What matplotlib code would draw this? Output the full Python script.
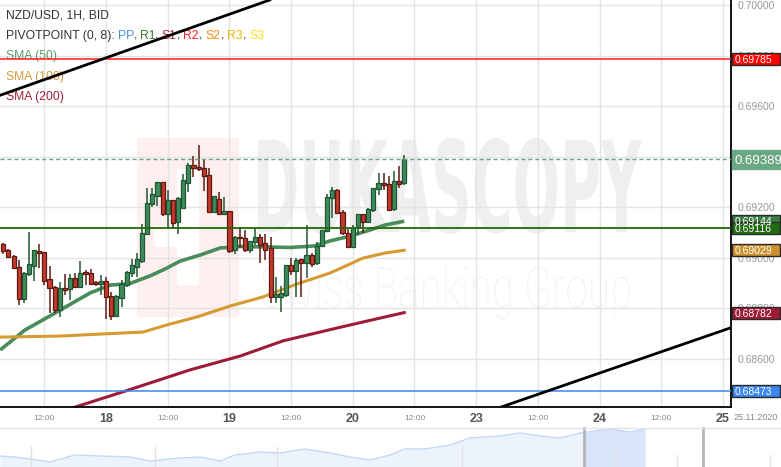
import numpy as np
import matplotlib
matplotlib.use("Agg")
import matplotlib.pyplot as plt
from matplotlib.patches import Rectangle, PathPatch
from matplotlib.textpath import TextPath
from matplotlib.font_manager import FontProperties
from matplotlib.transforms import Affine2D, IdentityTransform, blended_transform_factory

plt.rcParams['font.family'] = ['Liberation Sans', 'DejaVu Sans']

# ---------------- data ----------------
start_hour = 4  # hours after 17 Nov 00:00 for the first visible candle

opens = [0.69053, 0.69030, 0.69006, 0.68961, 0.68835, 0.68934, 0.68967, 0.69026, 0.69021, 0.68914,
         0.68882, 0.68792, 0.68878, 0.68874, 0.68918, 0.68882, 0.68942, 0.68940, 0.68903, 0.68894,
         0.68907, 0.68848, 0.68770, 0.68839, 0.68891, 0.68940, 0.68964, 0.68988, 0.69092, 0.69211,
         0.69245, 0.69298, 0.69171, 0.69228, 0.69140, 0.69195, 0.69296, 0.69367, 0.69357, 0.69353,
         0.69326, 0.69179, 0.69232, 0.69171, 0.69184, 0.69030, 0.69083, 0.69076, 0.69030, 0.69060,
         0.69080, 0.69056, 0.69037, 0.68845, 0.68845, 0.68852, 0.68970, 0.68948, 0.68993, 0.68980,
         0.69010, 0.68977, 0.69046, 0.69106, 0.69235, 0.69268, 0.69182, 0.69096, 0.69041, 0.69120,
         0.69171, 0.69142, 0.69188, 0.69270, 0.69296, 0.69291, 0.69191, 0.69303, 0.69294]
closes = [0.69026, 0.69003, 0.68957, 0.68835, 0.68938, 0.68975, 0.69030, 0.69019, 0.68908, 0.68878,
          0.68792, 0.68878, 0.68871, 0.68918, 0.68882, 0.68940, 0.68934, 0.68894, 0.68894, 0.68907,
          0.68843, 0.68770, 0.68848, 0.68894, 0.68944, 0.68970, 0.68994, 0.69096, 0.69215, 0.69250,
          0.69298, 0.69171, 0.69228, 0.69136, 0.69237, 0.69307, 0.69367, 0.69353, 0.69350, 0.69323,
          0.69179, 0.69244, 0.69171, 0.69184, 0.69026, 0.69083, 0.69076, 0.69030, 0.69066, 0.69083,
          0.69050, 0.69030, 0.68843, 0.68856, 0.68861, 0.68970, 0.68948, 0.68990, 0.68980, 0.69010,
          0.68975, 0.69046, 0.69109, 0.69241, 0.69268, 0.69175, 0.69096, 0.69041, 0.69116, 0.69172,
          0.69142, 0.69191, 0.69274, 0.69296, 0.69287, 0.69188, 0.69303, 0.69290, 0.69389]
highs = [0.69056, 0.69034, 0.69010, 0.68990, 0.68944, 0.69100, 0.69030, 0.69054, 0.69021, 0.68967,
         0.68887, 0.68904, 0.68935, 0.68935, 0.68938, 0.68986, 0.68951, 0.68953, 0.68907, 0.68931,
         0.68924, 0.68865, 0.68852, 0.68911, 0.68947, 0.68994, 0.69017, 0.69133, 0.69274, 0.69274,
         0.69298, 0.69298, 0.69268, 0.69228, 0.69241, 0.69330, 0.69373, 0.69402, 0.69446, 0.69390,
         0.69353, 0.69244, 0.69261, 0.69241, 0.69184, 0.69087, 0.69122, 0.69109, 0.69066, 0.69116,
         0.69093, 0.69093, 0.69080, 0.68924, 0.68887, 0.68970, 0.68997, 0.68997, 0.68993, 0.69129,
         0.69017, 0.69063, 0.69109, 0.69250, 0.69279, 0.69270, 0.69188, 0.69112, 0.69129, 0.69172,
         0.69171, 0.69195, 0.69274, 0.69334, 0.69336, 0.69323, 0.69344, 0.69363, 0.69406]
lows = [0.69013, 0.68998, 0.68955, 0.68812, 0.68821, 0.68928, 0.68908, 0.68957, 0.68891, 0.68782,
        0.68782, 0.68763, 0.68852, 0.68832, 0.68878, 0.68882, 0.68891, 0.68894, 0.68887, 0.68852,
        0.68756, 0.68753, 0.68766, 0.68805, 0.68885, 0.68924, 0.68922, 0.68980, 0.69092, 0.69201,
        0.69205, 0.69165, 0.69112, 0.69118, 0.69094, 0.69192, 0.69261, 0.69320, 0.69344, 0.69265,
        0.69179, 0.69179, 0.69171, 0.69171, 0.69017, 0.69013, 0.69037, 0.69023, 0.69017, 0.69050,
        0.68977, 0.68990, 0.68821, 0.68821, 0.68786, 0.68845, 0.68931, 0.68845, 0.68845, 0.68920,
        0.68961, 0.68970, 0.69041, 0.69102, 0.69155, 0.69172, 0.69089, 0.69041, 0.69037, 0.69089,
        0.69096, 0.69136, 0.69182, 0.69248, 0.69268, 0.69186, 0.69186, 0.69274, 0.69287]

sma50_h = [3.4, 8.2, 13.1, 20.9, 24.8, 28.6, 32.5, 35.5, 38.4, 42.3, 46.2, 50.1, 59.8, 64.6, 67.6, 71.5, 75.3, 78.3, 82.0]
sma50 = [0.68634, 0.68713, 0.68769, 0.68860, 0.68891, 0.68897, 0.68927, 0.68955, 0.68986, 0.69010,
         0.69038, 0.69044, 0.69040, 0.69046, 0.69066, 0.69085, 0.69109, 0.69129, 0.69144]
sma100_h = [3.4, 15.0, 22.8, 31.2, 35.8, 41.7, 48.1, 54.5, 61.1, 67.6, 74.0, 78.3, 82.0]
sma100 = [0.68685, 0.68689, 0.68697, 0.68705, 0.68733, 0.68765, 0.68808, 0.68844, 0.68895, 0.68939,
          0.68998, 0.69018, 0.69029]
sma200_h = [16.0, 18.0, 27.7, 40.3, 50.1, 58.4, 68.1, 74.0, 82.0]
sma200 = [0.68390, 0.68408, 0.68471, 0.68555, 0.68610, 0.68670, 0.68717, 0.68745, 0.68782]

pivot_r = 0.69785      # red level
pivot_g = 0.69116      # green level
pivot_b = 0.68473      # blue level
last_price = 0.69389

trend_upper = [(3.0, 0.69640), (60.0, 0.70050)]
trend_lower = [(100.85, 0.68408), (145.4, 0.68721)]

day_pos = [24, 48, 72, 96, 120, 144]
day_labels = ["18", "19", "20", "23", "24", "25"]
noon_pos = [12, 36, 60, 84, 108, 132]
noon_labels = ["12:00"] * 6
y_ticks = [0.686, 0.688, 0.690, 0.692, 0.694, 0.696, 0.698, 0.700]

nav_pos = [0, 15, 30, 50, 75, 100, 130, 150, 180, 200, 220, 235, 260, 280, 305, 330, 350, 370,
           390, 405, 425, 450, 470, 500, 520, 540, 560, 580, 610, 630, 645]
nav_level = [11, 10, 8, 5, 12, 11, 10, 6, 9, 10, 6, 12, 15, 14, 18, 14, 10, 7,
             12, 18, 18, 22, 29, 31, 34, 31, 29, 34, 38, 35, 38]

# ---------------- figure ----------------
W, H = 781, 467
fig = plt.figure(figsize=(W / 100, H / 100), dpi=100, facecolor='white')
ax_right_px, ax_bottom_px = 731, 407
ax = fig.add_axes([0, (H - ax_bottom_px) / H, ax_right_px / W, ax_bottom_px / H])
ymin, ymax = 0.684082, 0.700200
xmin = 3.36
xmax = xmin + ax_right_px / 5.14
ax.set_xlim(xmin, xmax)
ax.set_ylim(ymin, ymax)
ax.set_autoscale_on(False)

for s in ['top', 'left']:
    ax.spines[s].set_visible(False)
for s in ['right', 'bottom']:
    ax.spines[s].set_color('black')
    ax.spines[s].set_linewidth(1.3)

ax.set_axisbelow(True)
ax.grid(which='both', color='#e4e4e4', lw=1, zorder=0.5)

# ticks
ax.yaxis.tick_right()
ax.set_yticks(y_ticks, labels=[f"{v:.5f}" for v in y_ticks])
ax.tick_params(axis='y', length=0, pad=5, labelsize=7.5, labelcolor='#999999')
ax.set_xticks(day_pos, labels=day_labels)
ax.set_xticks(noon_pos, labels=noon_labels, minor=True)
ax.tick_params(axis='x', which='major', length=0, pad=4, labelsize=9, labelcolor='#555555')
ax.tick_params(axis='x', which='minor', length=0, pad=5.5, labelsize=6, labelcolor='#888888')
for lbl in ax.get_xticklabels():
    lbl.set_fontweight('bold')
fig.text(734 / W, (H - 417) / H, "25.11.2020", fontsize=6.5, color='#888888', va='center', ha='left')


# ---------------- watermark ----------------
def fit_path(text, box, color, weight, family, z=0.2):
    tp = TextPath((0, 0), text, size=100, prop=FontProperties(family=family, weight=weight))
    ext = tp.get_extents()
    x0, y0, x1, y1 = box
    fx0, fx1 = x0 / W, x1 / W
    fy0, fy1 = (H - y1) / H, (H - y0) / H
    tr = Affine2D().translate(-ext.x0, -ext.y0).scale((fx1 - fx0) / ext.width,
                                                        (fy1 - fy0) / ext.height).translate(fx0, fy0) + fig.transFigure
    ax.add_patch(PathPatch(tp, transform=tr, facecolor=color, edgecolor='none', zorder=z))


def fig_rect(x0, y0, x1, y1, color, z=0.1):
    ax.add_patch(Rectangle((x0 / W, (H - y1) / H), (x1 - x0) / W, (y1 - y0) / H,
                           transform=fig.transFigure, facecolor=color, edgecolor='none', zorder=z))


fit_path("DUKASCOPY", (258, 138, 642, 234), '#efefef', 'bold', 'DejaVu Sans')
fit_path("Swiss Banking Group", (262, 265, 630, 319), '#f3f3f3', 'light', 'Roboto')
fig_rect(137, 138, 239, 317, '#fdf0ee')
fig_rect(177, 169, 199, 285, 'white', 0.15)
fig_rect(154, 226, 177, 247, 'white', 0.15)

# ---------------- indicators ----------------
ax.plot(sma50_h, sma50, color='#4a8c5c', lw=2.6, zorder=2, solid_capstyle='butt')
ax.plot(sma100_h, sma100, color='#d69a32', lw=2.2, zorder=2)
ax.plot(sma200_h, sma200, color='#9c1c3a', lw=2.2, zorder=2)

# ---------------- candles ----------------
n = len(opens)
xs = start_hour + np.arange(n)
o = np.array(opens); c = np.array(closes); hi = np.array(highs); lo = np.array(lows)
up = c >= o
wick_cols = np.where(up, '#1f5733', '#5e1a12')
ax.vlines(xs, lo, hi, colors=wick_cols, lw=1.1, zorder=3)
ax.bar(xs[up], (c - o)[up], bottom=o[up], width=0.8, color='#3f8b5e', edgecolor='#1f5733', lw=0.9, zorder=4)
ax.bar(xs[~up], (c - o)[~up], bottom=o[~up], width=0.8, color='#c23b2c', edgecolor='#5e1a12', lw=0.9, zorder=4)

# ---------------- levels / lines ----------------
ax.axhline(pivot_r, color='#ff1a1a', lw=1.1, zorder=5)
ax.axhline(pivot_g, color='#1e6a06', lw=1.3, zorder=5)
ax.axhline(pivot_b, color='#3a87f0', lw=1.1, zorder=5)
ax.axhline(last_price, color='#6aa883', lw=1, ls=(0, (3, 2)), zorder=5)
ax.axline(trend_upper[0], trend_upper[1], color='black', lw=2, zorder=6)
ax.axline(trend_lower[0], trend_lower[1], color='black', lw=2, zorder=6)

# ---------------- legend texts ----------------
renderer = fig.canvas.get_renderer()
fp = dict(fontsize=8.7, family=['Liberation Sans', 'DejaVu Sans'])


def seg_text(x, y_img, segs):
    prefix = ""
    base = ax.text(0, 0, "I", transform=IdentityTransform(), **fp)
    wI = base.get_window_extent(renderer).width
    base.remove()
    for s, col in segs:
        if prefix:
            t = ax.text(0, 0, prefix + "I", transform=IdentityTransform(), **fp)
            off = t.get_window_extent(renderer).width - wI
            t.remove()
        else:
            off = 0
        ax.text(x + off, H - y_img, s, transform=IdentityTransform(), color=col, va='center', ha='left', zorder=2, **fp)
        prefix += s


dark = '#333333'
seg_text(6, 16, [("NZD/USD, 1H, BID", dark)])
seg_text(6, 36, [("PIVOTPOINT (0, 8): ", dark), ("PP", '#4a90e2'), (", ", dark), ("R1", '#3d7a2a'), (", ", dark),
                 ("S1", '#a8213b'), (", ", dark), ("R2", '#ff2222'), (", ", dark), ("S2", '#ff8c1a'), (", ", dark),
                 ("R3", '#f2b705'), (", ", dark), ("S3", '#f2e21a')])
seg_text(6, 56, [("SMA (50)", '#5a9a6a')])
seg_text(6, 77, [("SMA (100)", '#d39a3a')])
seg_text(6, 97, [("SMA (200)", '#a3203a')])

# ---------------- right value boxes ----------------
bt = blended_transform_factory(fig.transFigure, ax.transData)
ppu = ax_bottom_px / (ymax - ymin)


def value_box(val, face, edge, fs=7.5, hpx=12, tcol='white'):
    dh = hpx / ppu
    fig.add_artist(Rectangle((731.5 / W, val - dh / 2), 48.5 / W, dh, transform=bt, facecolor=face,
                             edgecolor=edge, lw=1, clip_on=False, zorder=10))
    fig.text(734.5 / W, val, f"{val:.5f}", transform=bt, color=tcol, fontsize=fs, va='center_baseline',
             ha='left', zorder=11)


value_box(pivot_r, '#ff0000', '#2a2a2a')
value_box(sma50[-1], '#3b7d45', '#2a2a2a')
value_box(pivot_g, '#226b12', '#2a2a2a')
value_box(sma100[-1], '#cc922f', '#2a2a2a')
value_box(sma200[-1], '#9e1a35', '#2a2a2a')
value_box(pivot_b, '#3b87f2', '#2a2a2a')
value_box(last_price, '#6aa883', '#6aa883', fs=9.5, hpx=19)

# ---------------- navigator ----------------
nav = fig.add_axes([0, 0, 1, 40 / H])
nav.set_xlim(0, W)
nav.set_ylim(0, 40)
nav.axis('off')
nav.fill_between(nav_pos, nav_level, 0, color='#edf3fd', lw=0)
dark_fill = nav.fill_between(nav_pos, nav_level, 0, color='#d8e5fa', lw=0)
dark_fill.set_clip_path(Rectangle((584, 0), 62, 40, transform=nav.transData))
nav.plot(nav_pos, nav_level, color='#c4d8f5', lw=1)
for xv, hv in [(31, 20), (155, 20), (277, 20), (462, 20), (615, 20), (677, 12), (770, 12)]:
    nav.plot([xv, xv], [0, hv], color='#e2e2e2', lw=1)
for xv in [584, 703]:
    nav.plot([xv, xv], [0, 40], color='#b5b5b5', lw=2)
nav.axhline(39.5, color='#e4e4e4', lw=1)

fig.savefig("out.png", dpi=100, facecolor='white')
